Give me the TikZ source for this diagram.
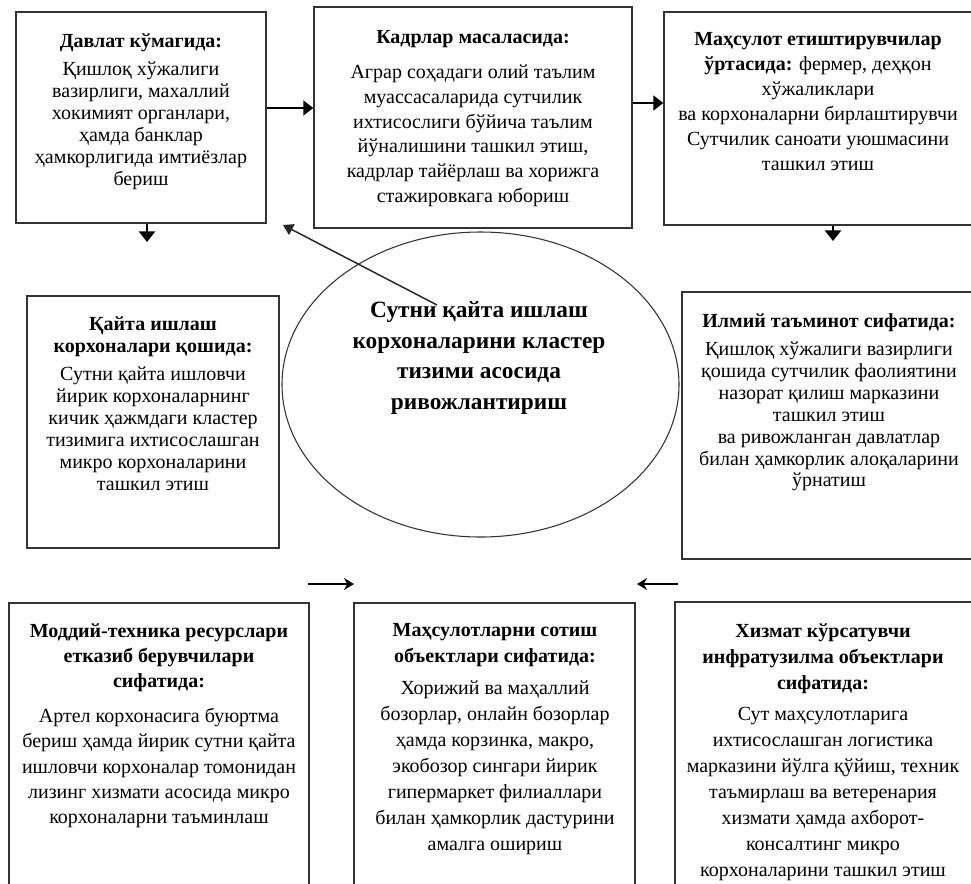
\documentclass[tikz,border=0pt]{standalone}
\usepackage{fontspec}
\setmainfont{Liberation Serif}
\usetikzlibrary{shapes.geometric,arrows.meta,fit,calc}
\begin{document}
\begin{tikzpicture}[x=0.75pt,y=-0.75pt,
  box/.style={draw=black!80, line width=1pt, inner sep=0pt},
  txt/.style={align=center, inner sep=0pt, anchor=north},
  harrow/.style={-{Triangle[length=7.5pt,width=11pt]}, line width=2pt},
  varrow/.style={-{Triangle[length=8pt,width=12pt]}, line width=2pt},
  darrow/.style={-{Triangle[length=7.5pt,width=9pt]}, line width=1.1pt, draw=black!85},
  barrow/.style={-{Stealth[length=7.5pt,width=9pt]}, line width=1.5pt}]
\useasboundingbox (0,0) rectangle (971,883);
\fill[white] (0,0) rectangle (971,883);
\clip (0,0) rectangle (971,883);

% boxes
\node[box, fit={(16,12) (266,223)}] (b1) {};
\node[box, fit={(314,7) (632,228)}] (b2) {};
\node[box, fit={(664,12) (977,225)}] (b3) {};
\node[box, fit={(27,296) (279,548)}] (b4) {};
\node[box, fit={(682,292) (977,559)}] (b6) {};
\node[box, fit={(9,603) (309,892)}] (b7) {};
\node[box, fit={(354,603) (635,892)}] (b8) {};
\node[box, fit={(675,602) (977,892)}] (b9) {};
\node[ellipse, draw=black!80, line width=0.8pt, inner sep=0pt,
      minimum width=297.75pt, minimum height=228.75pt] (el) at (480.5,384.5) {};

% texts
\node[txt, font=\fontsize{15}{16.5}\selectfont] (t1) at (141,33)
 {\textbf{Давлат кўмагида:}\\[5pt] Қишлоқ хўжалиги\\ вазирлиги, махаллий\\ хокимият органлари,\\ ҳамда банклар\\ ҳамкорлигида имтиёзлар\\ бериш};
\node[txt, font=\fontsize{15}{18.5}\selectfont] (t2) at (473,30)
 {\textbf{Кадрлар масаласида:}\\[8pt] Аграр соҳадаги олий таълим\\ муассасаларида сутчилик\\ ихтисослиги бўйича таълим\\ йўналишини ташкил этиш,\\ кадрлар тайёрлаш ва хорижга\\ стажировкага юбориш};
\node[txt, font=\fontsize{15}{18.75}\selectfont] (t3) at (818,32)
 {\textbf{Маҳсулот етиштирувчилар}\\ \textbf{ўртасида:} фермер, деҳқон\\ хўжаликлари\\ ва корхоналарни бирлаштирувчи\\ Сутчилик саноати уюшмасини\\ ташкил этиш};
\node[txt, font=\fontsize{15}{16.5}\selectfont] (t4) at (153,316)
 {\textbf{Қайта ишлаш}\\ \textbf{корхоналари қошида:}\\[5pt] Сутни қайта ишловчи\\ йирик корхоналарнинг\\ кичик ҳажмдаги кластер\\ тизимига ихтисослашган\\ микро корхоналарини\\ ташкил этиш};
\node[txt, font=\fontsize{17.5}{23}\selectfont\bfseries] (te) at (479,301)
 {Сутни қайта ишлаш\\ корхоналарини кластер\\ тизими асосида\\ ривожлантириш};
\node[txt, font=\fontsize{15}{16.4}\selectfont] (t6) at (829,313)
 {\textbf{Илмий таъминот сифатида:}\\[5pt] Қишлоқ хўжалиги вазирлиги\\ қошида сутчилик фаолиятини\\ назорат қилиш марказини\\ ташкил этиш\\ ва ривожланган давлатлар\\ билан ҳамкорлик алоқаларини\\ ўрнатиш};
\node[txt, font=\fontsize{15}{19}\selectfont] (t7) at (159,623)
 {\textbf{Моддий-техника ресурслари}\\ \textbf{етказиб берувчилари}\\ \textbf{сифатида:}\\[7pt] Артел корхонасига буюртма\\ бериш ҳамда йирик сутни қайта\\ ишловчи корхоналар томонидан\\ лизинг хизмати асосида микро\\ корхоналарни таъминлаш};
\node[txt, font=\fontsize{15}{19.5}\selectfont] (t8) at (495,623)
 {\textbf{Маҳсулотларни сотиш}\\ \textbf{объектлари сифатида:}\\[4.5pt] Хорижий ва маҳаллий\\ бозорлар, онлайн бозорлар\\ ҳамда корзинка, макро,\\ экобозор сингари йирик\\ гипермаркет филиаллари\\ билан ҳамкорлик дастурини\\ амалга ошириш};
\node[txt, font=\fontsize{15}{19.5}\selectfont] (t9) at (823,623)
 {\textbf{Хизмат кўрсатувчи}\\ \textbf{инфратузилма объектлари}\\ \textbf{сифатида:}\\[4pt] Сут маҳсулотларига\\ ихтисослашган логистика\\ марказини йўлга қўйиш, техник\\ таъмирлаш ва ветеренария\\ хизмати ҳамда ахборот-\\ консалтинг микро\\ корхоналарини ташкил этиш};

% connectors
\draw[harrow] ($(b1.east)+(0,-9.5)$) -- ($(b2.west)+(0,-9.5)$);
\draw[harrow] ($(b2.east)+(0,-14.5)$) -- ($(b3.west)+(0,-15.5)$);
\coordinate (d1) at (147,242);
\coordinate (d3) at (833,241);
\draw[varrow] (b1.south -| d1) -- (d1);
\draw[varrow] (b3.south -| d3) -- (d3);
\coordinate (e1) at (437,305);
\coordinate (e2) at (283,225);
\draw[darrow] (e1) -- (e2);
\coordinate (l1) at (308,584);
\coordinate (l2) at (354,584);
\coordinate (r1) at (678,584);
\coordinate (r2) at (637,584);
\draw[barrow] (l1) -- (l2);
\draw[barrow] (r1) -- (r2);
\end{tikzpicture}
\end{document}
